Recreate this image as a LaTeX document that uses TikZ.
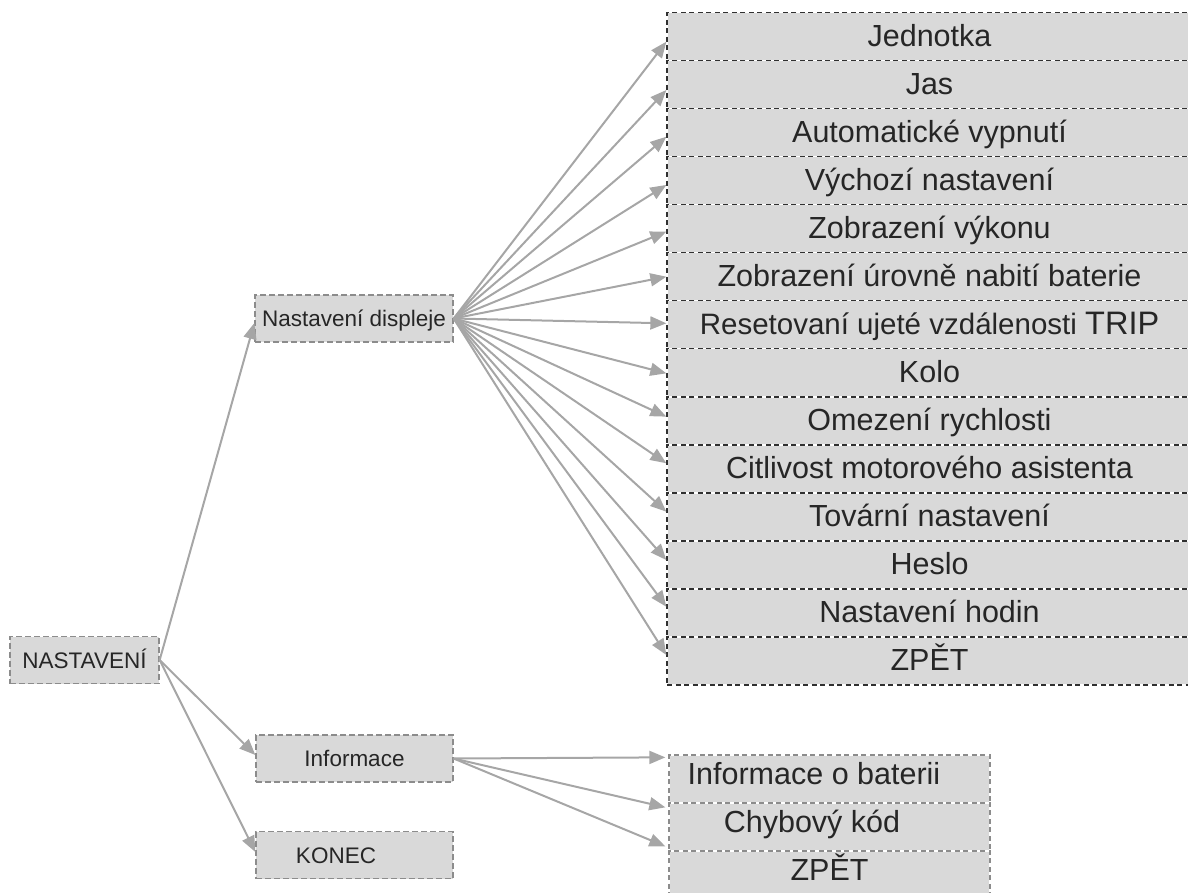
\documentclass[tikz,border=0pt]{standalone}
\usepackage{fontspec}
\setmainfont{Liberation Sans}
\usetikzlibrary{arrows.meta}
\definecolor{boxfill}{HTML}{D9D9D9}
\definecolor{arrowgray}{HTML}{A6A6A6}
\definecolor{bordergray}{HTML}{8C8C8C}
\definecolor{borderdark}{HTML}{303030}
\definecolor{txt}{HTML}{262626}
\tikzset{
  smallbox/.style={draw=bordergray, fill=boxfill, line width=1.3pt,
    dash pattern=on 6pt off 3pt, minimum height=47pt, inner sep=0pt,
    text=txt, font=\fontsize{22.5}{26}\selectfont, text height=16pt, text depth=0pt},
  rowbox/.style={preaction={fill=boxfill}, preaction={draw=white, solid, line width=1.3pt},
    draw=borderdark, line width=1.3pt, dash pattern=on 5pt off 3.5pt,
    minimum width=525pt, minimum height=48.02pt, inner sep=0pt,
    text=txt, font=\fontsize{30.5}{34}\selectfont, text height=21.5pt, text depth=2pt},
  infobox/.style={preaction={fill=boxfill}, preaction={draw=white, solid, line width=1.3pt},
    draw=bordergray, line width=1.3pt, dash pattern=on 5pt off 3.5pt,
    minimum width=321pt, minimum height=48pt, inner sep=0pt,
    text=txt, font=\fontsize{30.5}{34}\selectfont, text height=22pt, text depth=12pt},
  conn/.style={draw=arrowgray, line width=2pt, -{Triangle[length=16pt,width=13pt]}},
}
\begin{document}
\begin{tikzpicture}[x=1pt,y=-1pt]
\useasboundingbox (0,0) rectangle (1188,893);
% left side boxes
\node[smallbox, minimum width=149pt] (nast) at (84.5,660) {NASTAVENÍ};
\node[smallbox, minimum width=198pt] (disp) at (354,318.5) {Nastavení displeje};
\node[smallbox, minimum width=197pt] (info) at (354.5,758.5) {Informace};
\node[smallbox, minimum width=197pt] (konec) at (354.5,855) {\hspace*{-37pt}KONEC};
% right column
\foreach \i/\t in {1/Jednotka, 2/Jas, 3/Automatické vypnutí, 4/Výchozí nastavení,
  5/Zobrazení výkonu, 6/Zobrazení úrovně nabití baterie,
  7/{\fontsize{29.5}{34}\selectfont Resetovaní ujeté vzdálenosti {\fontsize{32.5}{36}\selectfont TRIP}},
  8/Kolo, 9/Omezení rychlosti, 10/Citlivost motorového asistenta,
  11/Tovární nastavení, 12/Heslo, 13/Nastavení hodin, 14/ZPĚT}{
  \node[rowbox] (r\i) at (929.5, 36.7+48.02*\i-48.02) {\t};
}
% info sub boxes
\node[infobox] (ib1) at (829.5,779) {\hspace*{-31pt}Informace o baterii};
\node[infobox] (ib2) at (829.5,827) {\hspace*{-35pt}Chybový kód};
\node[infobox] (ib3) at (829.5,875) {ZPĚT};
% connectors
\draw[conn] (nast.east) -- ([yshift=-4.5pt]disp.west);
\draw[conn] (nast.east) -- ([yshift=3.5pt]info.west);
\draw[conn] (nast.east) -- ([yshift=3pt]konec.west);
\foreach \i/\o in {1/5, 2/5.3, 3/4, 4/4.2, 5/2.9, 6/-0.1, 7/-1.5, 8/0.5,
  9/-4.2, 10/-5.6, 11/-5.2, 12/-4.9, 13/-6.2, 14/-6}{
  \draw[conn] (disp.east) -- ([yshift=-\o pt]r\i.west);
}
\draw[conn] (info.east) -- ([xshift=-3pt,yshift=-3pt]ib1.north west);
\draw[conn] (info.east) -- ([xshift=-3pt,yshift=-5pt]ib2.north west);
\draw[conn] (info.east) -- ([xshift=-3pt,yshift=4pt]ib3.north west);
\end{tikzpicture}
\end{document}
